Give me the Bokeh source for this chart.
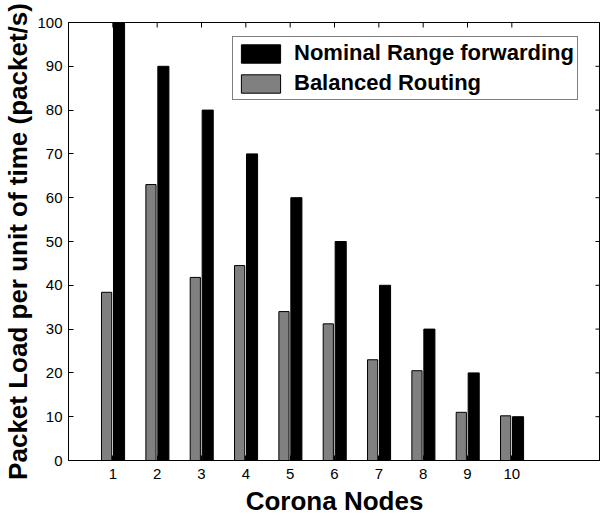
import math
from bokeh.plotting import figure
from bokeh.models import Range1d, FixedTicker, Legend, LegendItem, ColumnDataSource
from bokeh.transform import dodge
from bokeh.embed import file_html
from bokeh.resources import INLINE

nodes = [1, 2, 3, 4, 5, 6, 7, 8, 9, 10]
nominal = [100, 90, 80, 70, 60, 50, 40, 30, 20, 10]
balanced = [38.4, 63.0, 41.8, 44.5, 34.0, 31.2, 23.0, 20.5, 11.0, 10.2]
y_ticks = [0, 10, 20, 30, 40, 50, 60, 70, 80, 90, 100]
x_max = 12
y_max = 100

FONT = "Liberation Sans"

src = ColumnDataSource(dict(node=nodes, nominal=nominal, balanced=balanced))

p = figure(frame_width=532, frame_height=438, output_backend="svg", toolbar_location=None,
           x_range=Range1d(0, x_max), y_range=Range1d(0, y_max),
           min_border_left=60, min_border_top=22, min_border_right=0, min_border_bottom=40)
p.xgrid.visible = False
p.ygrid.visible = False
p.outline_line_color = "black"
p.outline_line_width = 1
p.background_fill_color = "white"
p.border_fill_color = "white"

r_bal = p.vbar(x=dodge("node", -0.14, range=p.x_range), top="balanced", width=0.23, source=src,
               fill_color="#808080", line_color="black", line_width=1)
r_nom = p.vbar(x=dodge("node", 0.14, range=p.x_range), top="nominal", width=0.25, source=src,
               fill_color="black", line_color="black", line_width=1)

# inward ticks on the top and right edges (MATLAB box style)
p.ray(x=nodes, y=[y_max] * len(nodes), length=5, length_units="screen",
      angle=-math.pi / 2, line_color="black", line_width=1)
p.ray(x=[x_max] * len(y_ticks), y=y_ticks, length=5, length_units="screen",
      angle=math.pi, line_color="black", line_width=1)

for ax in (p.xaxis[0], p.yaxis[0]):
    ax.major_tick_in = 5
    ax.major_tick_out = 0
    ax.minor_tick_line_color = None
    ax.axis_line_color = "black"
    ax.major_label_text_font = FONT
    ax.major_label_text_font_size = "15px"
    ax.major_label_text_color = "black"
    ax.axis_label_text_font = FONT
    ax.axis_label_text_font_style = "bold"
    ax.axis_label_text_font_size = "26px"
    ax.axis_label_text_color = "black"

p.xaxis[0].ticker = FixedTicker(ticks=nodes)
p.yaxis[0].ticker = FixedTicker(ticks=y_ticks)
p.xaxis[0].axis_label = "Corona Nodes"
p.yaxis[0].axis_label = "Packet Load per unit of time (packet/s)"
p.xaxis[0].major_label_standoff = 8
p.yaxis[0].major_label_standoff = 6
p.xaxis[0].axis_label_standoff = 4
p.yaxis[0].axis_label_standoff = 1

legend = Legend(items=[LegendItem(label="Nominal Range forwarding", renderers=[r_nom]),
                       LegendItem(label="Balanced Routing", renderers=[r_bal])],
                location=(164, 360), orientation="vertical",
                label_text_font=FONT, label_text_font_style="bold", label_text_font_size="22px",
                label_text_color="black", glyph_width=49, glyph_height=23, label_standoff=9,
                padding=3, spacing=4, margin=0, border_line_color="black", border_line_width=1,
                background_fill_color="white", background_fill_alpha=1.0)
p.add_layout(legend)

open("out.html", "w").write(file_html(p, INLINE))
